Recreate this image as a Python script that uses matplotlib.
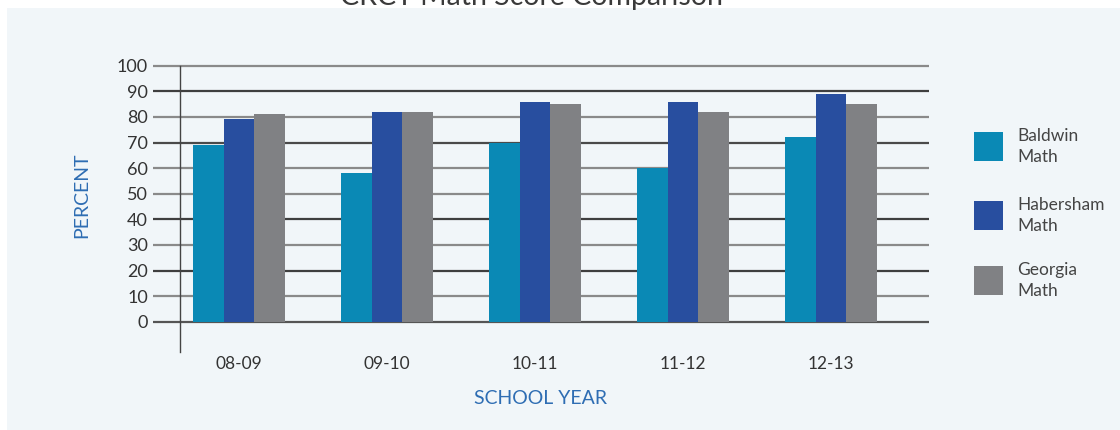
import matplotlib
matplotlib.use("Agg")
import matplotlib.pyplot as plt
from matplotlib.patches import Rectangle
import numpy as np

# data
years = ["08-09", "09-10", "10-11", "11-12", "12-13"]
baldwin = [69, 58, 70, 60, 72]
habersham = [79, 82, 86, 86, 89]
georgia = [81, 82, 85, 82, 85]
series_names = ["Baldwin\nMath", "Habersham\nMath", "Georgia\nMath"]
y_ticks = list(range(0, 101, 10))

colors = ["#0a89b5", "#284e9f", "#808184"]
grid_colors = ["#555555", "#8a8a8a", "#3f3f3f", "#8a8a8a", "#3f3f3f", "#8a8a8a",
               "#8a8a8a", "#4a4a4a", "#8a8a8a", "#3f3f3f", "#8a8a8a"]

W, H = 1120, 430
plt.rcParams["font.family"] = ["Lato", "DejaVu Sans"]

fig = plt.figure(figsize=(W / 100, H / 100), dpi=100)
fig.patch.set_facecolor("white")

# light panel behind the chart
fig.patches.append(Rectangle((7 / W, 0), 1 - 7 / W, 1 - 8 / H,
                             transform=fig.transFigure, facecolor="#f1f6f9",
                             edgecolor="none", zorder=-10))

ax = fig.add_axes([180 / W, 1 - 352 / H, (929 - 180) / W, (352 - 65.7) / H])
ax.set_facecolor("none")

x = np.arange(len(years))
width = 0.207
for i, (vals, c) in enumerate(zip([baldwin, habersham, georgia], colors)):
    ax.bar(x + (i - 1) * width, vals, width=width, color=c, zorder=3, linewidth=0)

xmin, xmax = -0.399, 4.662
ax.set_xlim(xmin, xmax)
ax.set_ylim(-11.8, 100)

for yt, gc in zip(y_ticks, grid_colors):
    ax.hlines(yt, -0.58, xmax, colors=gc, linewidth=1.6, zorder=2, clip_on=False)

for s in ["top", "right", "bottom"]:
    ax.spines[s].set_visible(False)
ax.spines["left"].set_color("#444444")
ax.spines["left"].set_linewidth(1.0)

ax.set_yticks(y_ticks)
ax.set_yticklabels([str(v) for v in y_ticks])
ax.tick_params(axis="y", length=0, pad=23, labelsize=13, labelcolor="#333333")
ax.set_xticks(x)
ax.set_xticklabels(years)
ax.tick_params(axis="x", length=0, pad=3, labelsize=12.5, labelcolor="#333333")

fig.text(540 / W, 1 - 399 / H, "SCHOOL YEAR", ha="center", va="center",
         fontsize=14, color="#2e6db3")
fig.text(82 / W, 1 - 195 / H, "PERCENT", ha="center", va="center",
         rotation=90, fontsize=14, color="#2e6db3")
# the reference title sits mostly above the top edge
fig.text(531 / W, 1 - 4.5 / H, "CRCT Math Score Comparison", ha="center",
         va="baseline", fontsize=20.5, color="#3a3a3a")

# legend built by hand to match the spacing
legend_tops = [132, 201, 266]
for name, c, top in zip(series_names, colors, legend_tops):
    fig.patches.append(Rectangle((974 / W, 1 - (top + 29) / H), 29 / W, 29 / H,
                                 transform=fig.transFigure, facecolor=c,
                                 edgecolor="none", zorder=3))
    fig.text(1017 / W, 1 - (top + 14.5) / H, name, ha="left", va="center",
             fontsize=12.5, color="#444444", linespacing=1.35)

fig.savefig("out.png", dpi=100)
